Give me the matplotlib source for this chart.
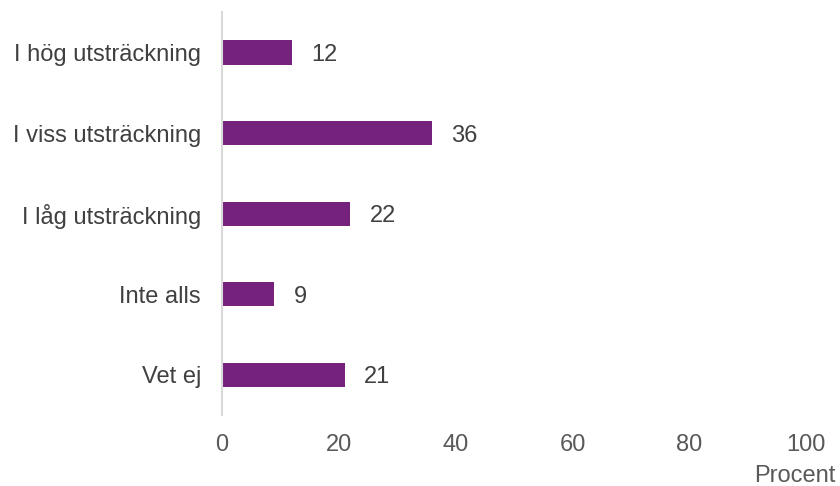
import matplotlib
matplotlib.use("Agg")
import matplotlib.pyplot as plt

categories = ["I hög utsträckning", "I viss utsträckning", "I låg utsträckning", "Inte alls", "Vet ej"]
values = [12, 36, 22, 9, 21]
xticks = [0, 20, 40, 60, 80, 100]

plt.rcParams['font.family'] = ['Liberation Sans', 'DejaVu Sans']

fig = plt.figure(figsize=(8.4, 4.86), dpi=100)
ax = fig.add_axes([0.264, 0.146, 0.696, 0.829])

pos = list(range(len(categories)))
ax.barh(pos, values, height=0.3, color="#74227C")
for p, v in zip(pos, values):
    ax.text(v + 3.3, p, str(v), va="center_baseline", ha="left", fontsize=17, color="#404040")

ax.set_xlim(0, 100)
ax.set_ylim(4.5, -0.5)
ax.set_yticks(pos)
ax.set_yticklabels(categories, fontsize=17, color="#404040")
ax.set_xticks(xticks)
ax.set_xticklabels([str(t) for t in xticks], fontsize=17, color="#595959")
ax.tick_params(length=0)
ax.tick_params(axis="y", pad=15)
ax.tick_params(axis="x", pad=14)
for s in ["top", "right", "bottom"]:
    ax.spines[s].set_visible(False)
ax.spines["left"].set_color("#d9d9d9")
ax.spines["left"].set_linewidth(1.5)

fig.text(0.995, 0.02, "Procent", ha="right", va="center", fontsize=17, color="#595959")

fig.savefig("out.png", dpi=100)
